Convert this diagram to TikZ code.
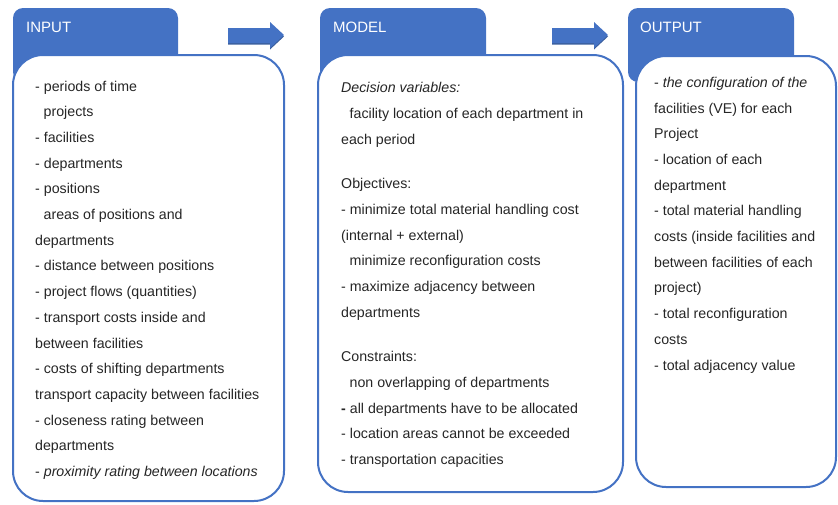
\documentclass[tikz,border=0pt]{standalone}
\usepackage{fontspec}
\setmainfont{Liberation Sans}
\definecolor{officeblue}{HTML}{4472C4}
\definecolor{shadowblue}{HTML}{3A5F9E}
\tikzset{
  tab/.style={fill=officeblue, rounded corners=10pt},
  panel/.style={draw=officeblue, line width=2pt, fill=white, rounded corners=30pt},
  headtext/.style={text=white, font=\fontsize{15}{18}\selectfont, anchor=base west, inner sep=0pt},
  % base of a multi-line node = baseline of its last line
  bodytext/.style={text=black!85, font=\fontsize{14.2}{25.7}\selectfont, anchor=base west, inner sep=0pt, align=left},
  blockarrow/.style={fill=officeblue},
}
\newcommand{\ind}{\hspace*{8.5pt}}

\begin{document}
\begin{tikzpicture}[x=1pt,y=-1pt]
\useasboundingbox (0,0) rectangle (838,504);

% header tabs
\fill[tab] (13,8) rectangle (178,82);
\fill[tab] (320,8) rectangle (486,82);
\fill[tab] (628,8) rectangle (794,82);
\node[headtext] (inputhead) at (26,32) {INPUT};
\node[headtext] (modelhead) at (333,32) {MODEL};
\node[headtext] (outputhead) at (640,32) {OUTPUT};

% panels
\filldraw[panel] (13,55) rectangle (284,501);
\filldraw[panel] (318,55) rectangle (623,492);
\filldraw[panel] (636,56) rectangle (836,487);

% block arrows
\foreach \xa/\xb/\xc in {228/270/284, 552/594/608}{
\fill[shadowblue] (\xa,29.5)--(\xb,29.5)--(\xb,23.5)--(\xc,36.5)--(\xb,49.5)--(\xb,44.5)--(\xa,44.5)--cycle;
\fill[blockarrow] (\xa,28)--(\xb,28)--(\xb,22)--(\xc,35)--(\xb,48)--(\xb,43)--(\xa,43)--cycle;
}

% texts
\node[bodytext] (inputtext) at (35,476.5) {%
- periods of time\\
\ind projects\\
- facilities\\
- departments\\
- positions\\
\ind areas of positions and\\
departments\\
- distance between positions\\
- project flows (quantities)\\
- transport costs inside and\\
between facilities\\
- costs of shifting departments\\
transport capacity between facilities\\
- closeness rating between\\
departments\\
- \textit{proximity rating between locations}};

\node[bodytext] (modeltext) at (341,464.5) {%
\textit{Decision variables:}\\
\ind facility location of each department in\\
each period\\[18.8pt]
Objectives:\\
- minimize total material handling cost\\
(internal + external)\\
\ind minimize reconfiguration costs\\
- maximize adjacency between\\
departments\\[18.8pt]
Constraints:\\
\ind non overlapping of departments\\
\textbf{-} all departments have to be allocated\\
- location areas cannot be exceeded\\
- transportation capacities};

\node[bodytext] (outputtext) at (654,370) {%
- \textit{the configuration of the}\\
facilities (VE) for each\\
Project\\
- location of each\\
department\\
- total material handling\\
costs (inside facilities and\\
between facilities of each\\
project)\\
- total reconfiguration\\
costs\\
- total adjacency value};
\end{tikzpicture}
\end{document}
